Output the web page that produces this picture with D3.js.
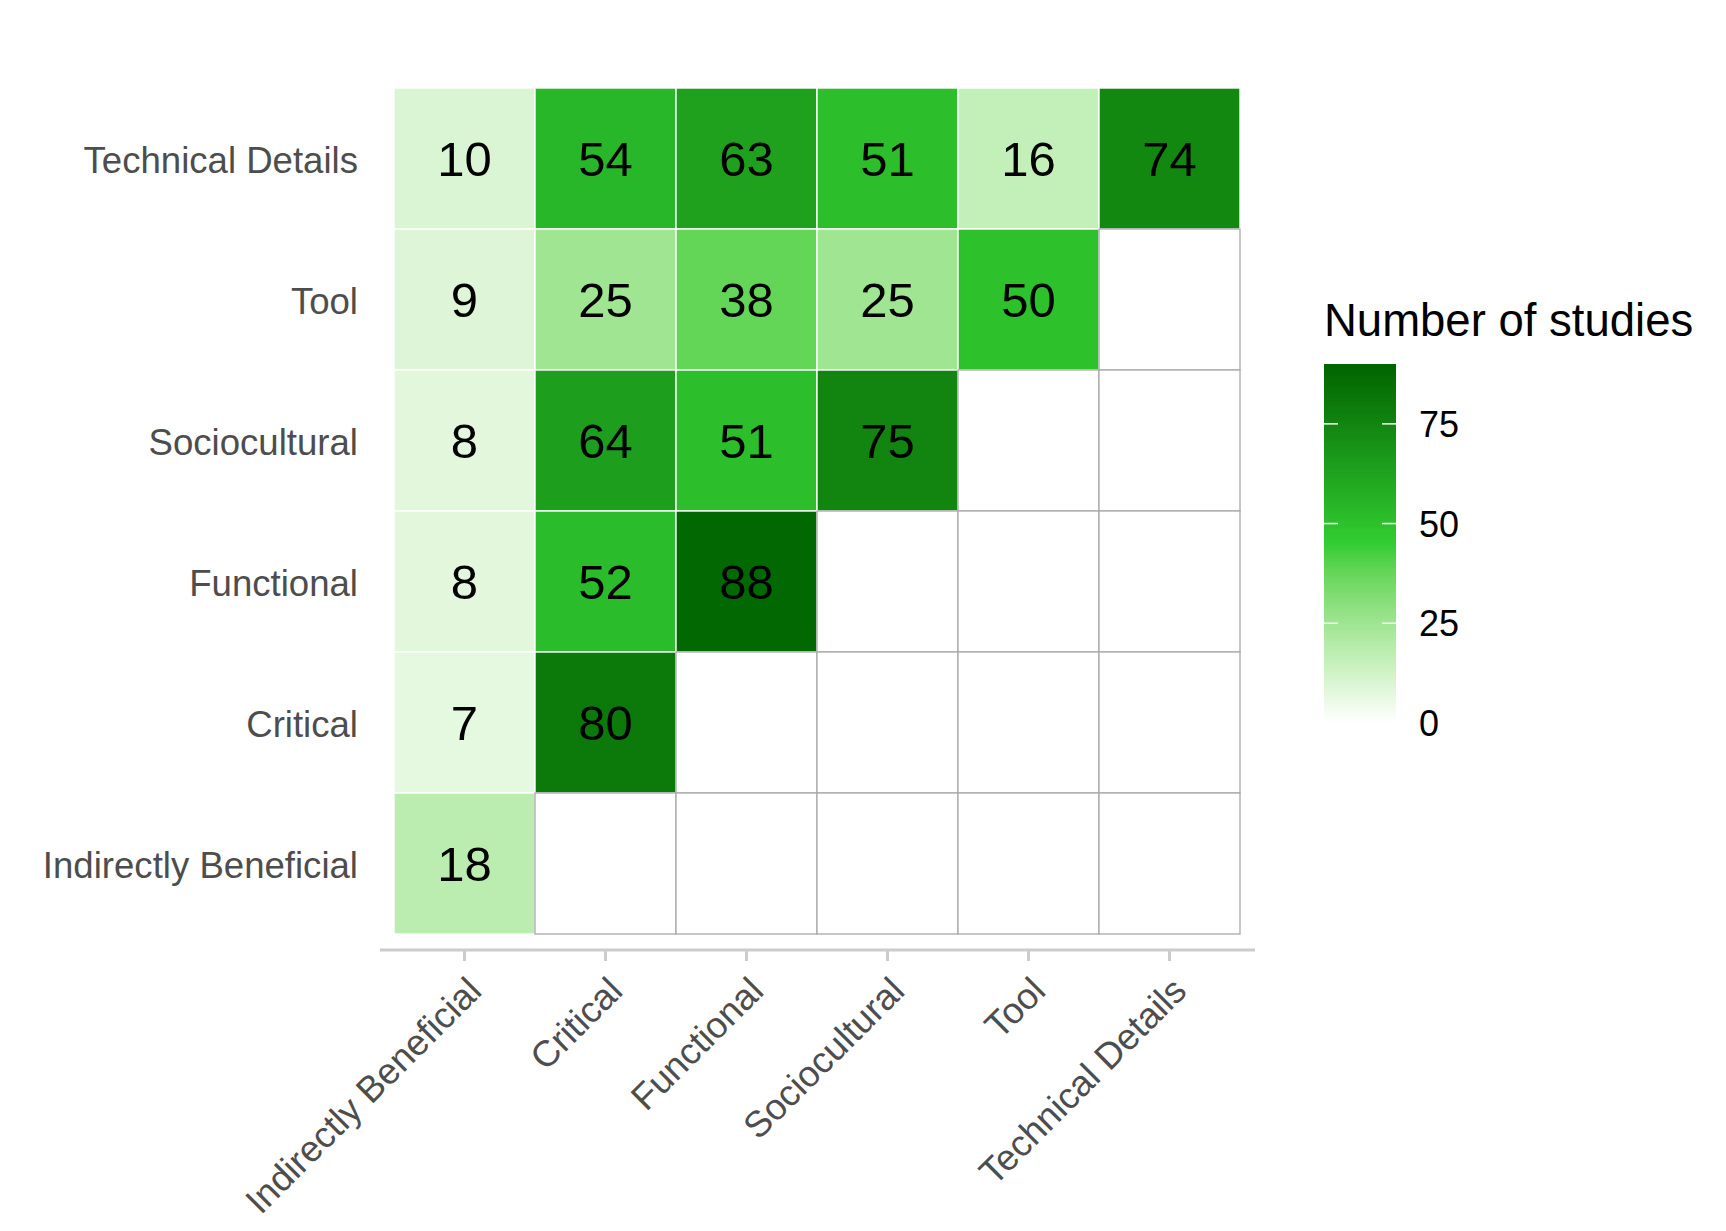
<!DOCTYPE html>
<html>
<head>
<meta charset="utf-8">
<script src="https://cdn.jsdelivr.net/npm/d3@7"></script>
<style>
  body { margin: 0; background: #fff; }
  text { font-family: "Liberation Sans", Arial, sans-serif; }
</style>
</head>
<body>
<div id="heatmap"></div>
<script>
// categories, left to right on x and bottom to top on y
const CATEGORIES = ["Indirectly Beneficial", "Critical", "Functional", "Sociocultural", "Tool", "Technical Details"];

// number of studies per row (y category), one value per x category, null = no tile
const ROW_TECHNICAL = [10, 54, 63, 51, 16, 74];
const ROW_TOOL = [9, 25, 38, 25, 50, null];
const ROW_SOCIO = [8, 64, 51, 75, null, null];
const ROW_FUNCTIONAL = [8, 52, 88, null, null, null];
const ROW_CRITICAL = [7, 80, null, null, null, null];
const ROW_INDIRECT = [18, null, null, null, null, null];

const LEGEND_TICKS = [0, 25, 50, 75];
const LEGEND_TITLE = "Number of studies";

const FRAME_WIDTH = 1726;
const FRAME_HEIGHT = 1231;
const PANEL = {left: 394, right: 1240, top: 88, bottom: 934};

const ROWS = [
  ["Technical Details", ROW_TECHNICAL],
  ["Tool", ROW_TOOL],
  ["Sociocultural", ROW_SOCIO],
  ["Functional", ROW_FUNCTIONAL],
  ["Critical", ROW_CRITICAL],
  ["Indirectly Beneficial", ROW_INDIRECT]
];

// flatten into tiles
const tiles = [];
ROWS.forEach(([rowName, vals]) => {
  vals.forEach((v, i) => {
    tiles.push({x: CATEGORIES[i], y: rowName, value: v});
  });
});

const X_SCALE = d3.scaleBand()
                  .domain(CATEGORIES)
                  .range([PANEL.left, PANEL.right]);

const Y_SCALE = d3.scaleBand()
                  .domain(ROWS.map(r => r[0]))
                  .range([PANEL.top, PANEL.bottom]);

// white -> limegreen -> darkgreen, midpoint 45, limits 0..90
const COLOR = d3.scaleLinear()
                .domain([0, 45, 90])
                .range(["white", "limegreen", "darkgreen"])
                .interpolate(d3.interpolateLab);

const SVG = d3.select("#heatmap")
              .append("svg")
                .attr("width", FRAME_WIDTH)
                .attr("height", FRAME_HEIGHT);

// filled tiles first
SVG.append("g")
    .selectAll("rect")
    .data(tiles.filter(d => d.value !== null))
    .enter()
    .append("rect")
      .attr("x", d => X_SCALE(d.x))
      .attr("y", d => Y_SCALE(d.y))
      .attr("width", X_SCALE.bandwidth())
      .attr("height", Y_SCALE.bandwidth())
      .attr("fill", d => COLOR(d.value))
      .attr("stroke", "white")
      .attr("stroke-width", 1.4);

// empty tiles with grey outline
SVG.append("g")
    .selectAll("rect")
    .data(tiles.filter(d => d.value === null))
    .enter()
    .append("rect")
      .attr("x", d => X_SCALE(d.x))
      .attr("y", d => Y_SCALE(d.y))
      .attr("width", X_SCALE.bandwidth())
      .attr("height", Y_SCALE.bandwidth())
      .attr("fill", "white")
      .attr("stroke", "#a9a9a9")
      .attr("stroke-width", 1.3);

// numbers in cells
SVG.append("g")
    .selectAll("text")
    .data(tiles.filter(d => d.value !== null))
    .enter()
    .append("text")
      .attr("x", d => X_SCALE(d.x) + X_SCALE.bandwidth() / 2)
      .attr("y", d => Y_SCALE(d.y) + Y_SCALE.bandwidth() / 2)
      .attr("dy", "0.36em")
      .attr("text-anchor", "middle")
      .attr("font-size", "49px")
      .attr("fill", "black")
      .text(d => d.value);

// x axis
const xAxis = SVG.append("g")
    .attr("transform", "translate(0," + (PANEL.bottom + 16) + ")")
    .call(d3.axisBottom(X_SCALE).tickSize(11).tickSizeOuter(0));

xAxis.select(".domain").remove();
xAxis.append("line")
    .attr("x1", PANEL.left - 14)
    .attr("x2", PANEL.right + 15)
    .attr("stroke", "#cccccc")
    .attr("stroke-width", 3);
xAxis.selectAll(".tick line")
    .attr("stroke", "#cccccc")
    .attr("stroke-width", 3);
xAxis.selectAll(".tick text")
    .attr("y", 0)
    .attr("dy", 0)
    .attr("transform", "translate(19,43) rotate(-45)")
    .attr("text-anchor", "end")
    .attr("font-size", "36.6px")
    .attr("font-family", "Liberation Sans, Arial, sans-serif")
    .attr("fill", "#4d4d4d");

// y axis, labels only
const yAxis = SVG.append("g")
    .attr("transform", "translate(" + PANEL.left + ",0)")
    .call(d3.axisLeft(Y_SCALE).tickSize(0).tickPadding(36));

yAxis.select(".domain").remove();
yAxis.selectAll(".tick text")
    .attr("dy", "0.4em")
    .attr("font-size", "36.6px")
    .attr("font-family", "Liberation Sans, Arial, sans-serif")
    .attr("fill", "#4d4d4d");

// legend colourbar
const LEG = {x: 1324, width: 72, top: 364, bottom: 723};
const LEG_SCALE = d3.scaleLinear()
                    .domain([0, 90])
                    .range([LEG.bottom, LEG.top]);

const grad = SVG.append("defs")
    .append("linearGradient")
      .attr("id", "legend-grad")
      .attr("x1", 0).attr("y1", 1)
      .attr("x2", 0).attr("y2", 0);

d3.range(0, 91, 5).forEach(v => {
  grad.append("stop")
      .attr("offset", (v / 90 * 100) + "%")
      .attr("stop-color", COLOR(v));
});

SVG.append("rect")
    .attr("x", LEG.x)
    .attr("y", LEG.top)
    .attr("width", LEG.width)
    .attr("height", LEG.bottom - LEG.top)
    .attr("fill", "url(#legend-grad)");

const legTicks = SVG.append("g")
    .selectAll("g")
    .data(LEGEND_TICKS)
    .enter()
    .append("g")
      .attr("transform", d => "translate(0," + LEG_SCALE(d) + ")");

legTicks.append("line")
    .attr("x1", LEG.x).attr("x2", LEG.x + 14)
    .attr("stroke", "white").attr("stroke-width", 1.5);
legTicks.append("line")
    .attr("x1", LEG.x + LEG.width - 14).attr("x2", LEG.x + LEG.width)
    .attr("stroke", "white").attr("stroke-width", 1.5);
legTicks.append("text")
    .attr("x", LEG.x + LEG.width + 23)
    .attr("dy", "0.36em")
    .attr("font-size", "36px")
    .attr("fill", "black")
    .text(d => d);

SVG.append("text")
    .attr("x", LEG.x)
    .attr("y", 336)
    .attr("font-size", "45.5px")
    .attr("fill", "black")
    .text(LEGEND_TITLE);
</script>
</body>
</html>
